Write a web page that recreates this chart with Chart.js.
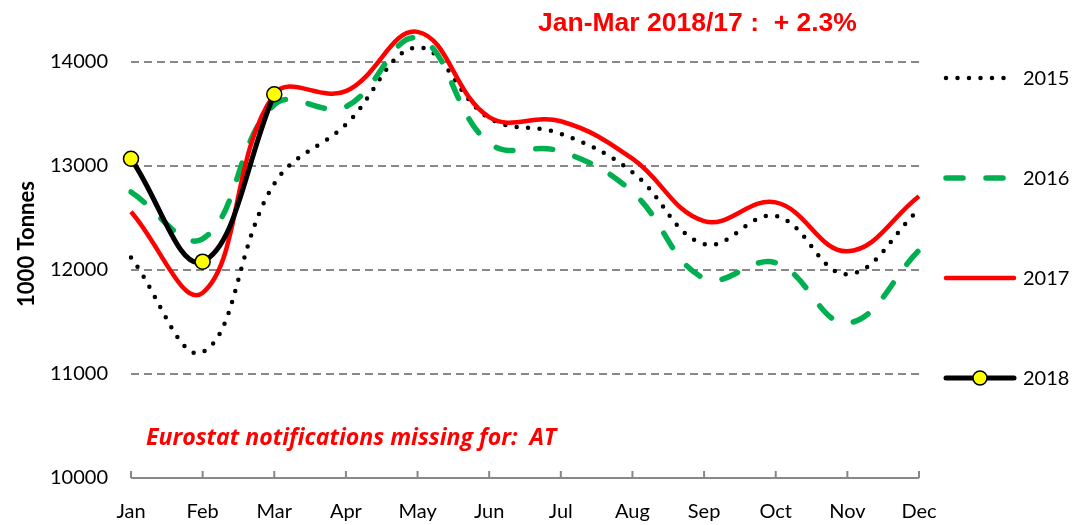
<!DOCTYPE html>
<html>
<head>
<meta charset="utf-8">
<script src="https://cdn.jsdelivr.net/npm/chart.js@4/dist/chart.umd.min.js"></script>
<style>
  body { margin: 0; background: #fff; }
  #wrap { width: 1074px; height: 525px; position: relative; }
</style>
</head>
<body>
<div id="wrap"><canvas id="tonnesChart"></canvas></div>
<script>
// ==========================================
// DATA
// ==========================================
const months = ['Jan', 'Feb', 'Mar', 'Apr', 'May', 'Jun', 'Jul', 'Aug', 'Sep', 'Oct', 'Nov', 'Dec'];
const yTicks = [10000, 11000, 12000, 13000, 14000];

const data2015 = [12120, 11210, 12830, 13400, 14140, 13460, 13310, 12940, 12250, 12520, 11960, 12580];
const data2016 = [12750, 12300, 13590, 13570, 14230, 13220, 13140, 12750, 11920, 12070, 11490, 12190];
const data2017 = [12560, 11780, 13690, 13720, 14290, 13470, 13430, 13070, 12470, 12650, 12180, 12710];
const data2018 = [13070, 12080, 13690, null, null, null, null, null, null, null, null, null];

const headline = 'Jan-Mar 2018/17 :  + 2.3%';
const footnote = 'Eurostat notifications missing for:  AT';

Chart.defaults.font.family = 'Lato, "Open Sans", sans-serif';
Chart.defaults.color = '#000';

// ==========================================
// EXTRA DRAWING: axis line, inner ticks, texts, legend
// ==========================================
const decorPlugin = {
    id: 'decor',
    beforeDatasetsDraw(chart) {
        const { ctx, chartArea, scales } = chart;
        const xs = scales.x;
        ctx.save();
        ctx.strokeStyle = '#888';
        ctx.lineWidth = 2;
        ctx.beginPath();
        ctx.moveTo(chartArea.left, chartArea.bottom);
        ctx.lineTo(chartArea.right, chartArea.bottom);
        months.forEach((m, i) => {
            const x = xs.getPixelForValue(i);
            ctx.moveTo(x, chartArea.bottom);
            ctx.lineTo(x, chartArea.bottom - 7);
        });
        ctx.stroke();
        ctx.restore();
    },
    afterDraw(chart) {
        const { ctx } = chart;
        ctx.save();

        // headline
        ctx.fillStyle = '#ff0000';
        ctx.font = 'bold 26.5px "Liberation Sans", Arial, sans-serif';
        ctx.textBaseline = 'alphabetic';
        ctx.textAlign = 'left';
        ctx.fillText(headline, 538, 31);

        // footnote, sized to the reference width
        ctx.font = 'italic bold 20px "Open Sans", sans-serif';
        const w = ctx.measureText(footnote).width;
        const size = 20 * 411 / w;
        ctx.font = 'italic bold ' + size.toFixed(1) + 'px "Open Sans", sans-serif';
        ctx.fillText(footnote, 146, 445);

        // legend
        const lx0 = 944, lx1 = 1014, tx = 1023;
        const rows = [
            { label: '2015', y: 78, color: '#000', width: 4.5, dash: [0, 11.5] },
            { label: '2016', y: 178, color: '#00b050', width: 5.5, dash: [17, 23] },
            { label: '2017', y: 278, color: '#ff0000', width: 4.5, dash: [] },
            { label: '2018', y: 378, color: '#000', width: 5, dash: [], marker: true }
        ];
        rows.forEach(r => {
            ctx.strokeStyle = r.color;
            ctx.lineWidth = r.width;
            ctx.lineCap = 'round';
            ctx.setLineDash(r.dash);
            ctx.beginPath();
            ctx.moveTo(lx0 + 2, r.y);
            ctx.lineTo(r.dash.length ? lx0 + 64 : lx1, r.y);
            ctx.stroke();
            ctx.setLineDash([]);
            if (r.marker) {
                ctx.fillStyle = '#ffff00';
                ctx.strokeStyle = '#000';
                ctx.lineWidth = 1.5;
                ctx.beginPath();
                ctx.arc(980, r.y, 7, 0, Math.PI * 2);
                ctx.fill();
                ctx.stroke();
            }
            ctx.fillStyle = '#000';
            ctx.font = '20px Lato, sans-serif';
            ctx.textBaseline = 'middle';
            ctx.fillText(r.label, tx, r.y + 1);
        });
        ctx.restore();
    }
};

// ==========================================
// CHART
// ==========================================
const ctx = document.getElementById('tonnesChart').getContext('2d');
new Chart(ctx, {
    type: 'line',
    data: {
        labels: months,
        datasets: [
            {
                label: '2015', data: data2015, order: 3,
                borderColor: '#000', borderWidth: 4.5, borderDash: [0, 11.5], borderCapStyle: 'round',
                pointRadius: 0, tension: 0.4, fill: false
            },
            {
                label: '2016', data: data2016, order: 2,
                borderColor: '#00b050', borderWidth: 5.5, borderDash: [17, 23], borderCapStyle: 'round',
                pointRadius: 0, tension: 0.4, fill: false
            },
            {
                label: '2017', data: data2017, order: 1,
                borderColor: '#ff0000', borderWidth: 4.5,
                pointRadius: 0, tension: 0.4, fill: false
            },
            {
                label: '2018', data: data2018, order: 0, clip: false,
                borderColor: '#000', borderWidth: 5,
                pointRadius: 7.5, pointBackgroundColor: '#ffff00', pointBorderColor: '#000', pointBorderWidth: 1.5,
                tension: 0.4, fill: false
            }
        ]
    },
    options: {
        responsive: true,
        maintainAspectRatio: false,
        animation: false,
        layout: { padding: { left: 0, right: 155, top: 10, bottom: 0 } },
        plugins: {
            legend: { display: false },
            tooltip: { enabled: false }
        },
        scales: {
            x: {
                grid: { display: false },
                border: { display: false },
                ticks: { font: { size: 20 }, padding: 14, maxRotation: 0, autoSkip: false },
                afterFit: s => { s.height = 47; s.paddingLeft = 0; s.paddingRight = 0; }
            },
            y: {
                min: 10000,
                max: 14500,
                afterBuildTicks: s => { s.ticks = yTicks.map(v => ({ value: v })); },
                grid: {
                    color: c => (c.tick && c.tick.value === 10000) ? 'rgba(0,0,0,0)' : '#888',
                    lineWidth: 2,
                    drawTicks: false
                },
                border: { display: false, dash: [8, 5] },
                ticks: { font: { size: 20 }, padding: 23, callback: v => String(v) },
                title: {
                    display: true,
                    text: '1000 Tonnes',
                    font: { size: 22, weight: 'bold' },
                    padding: { top: 14, bottom: 0 }
                },
                afterFit: s => { s.width = 131; s.paddingTop = 0; s.paddingBottom = 0; }
            }
        }
    },
    plugins: [decorPlugin]
});
</script>
</body>
</html>
